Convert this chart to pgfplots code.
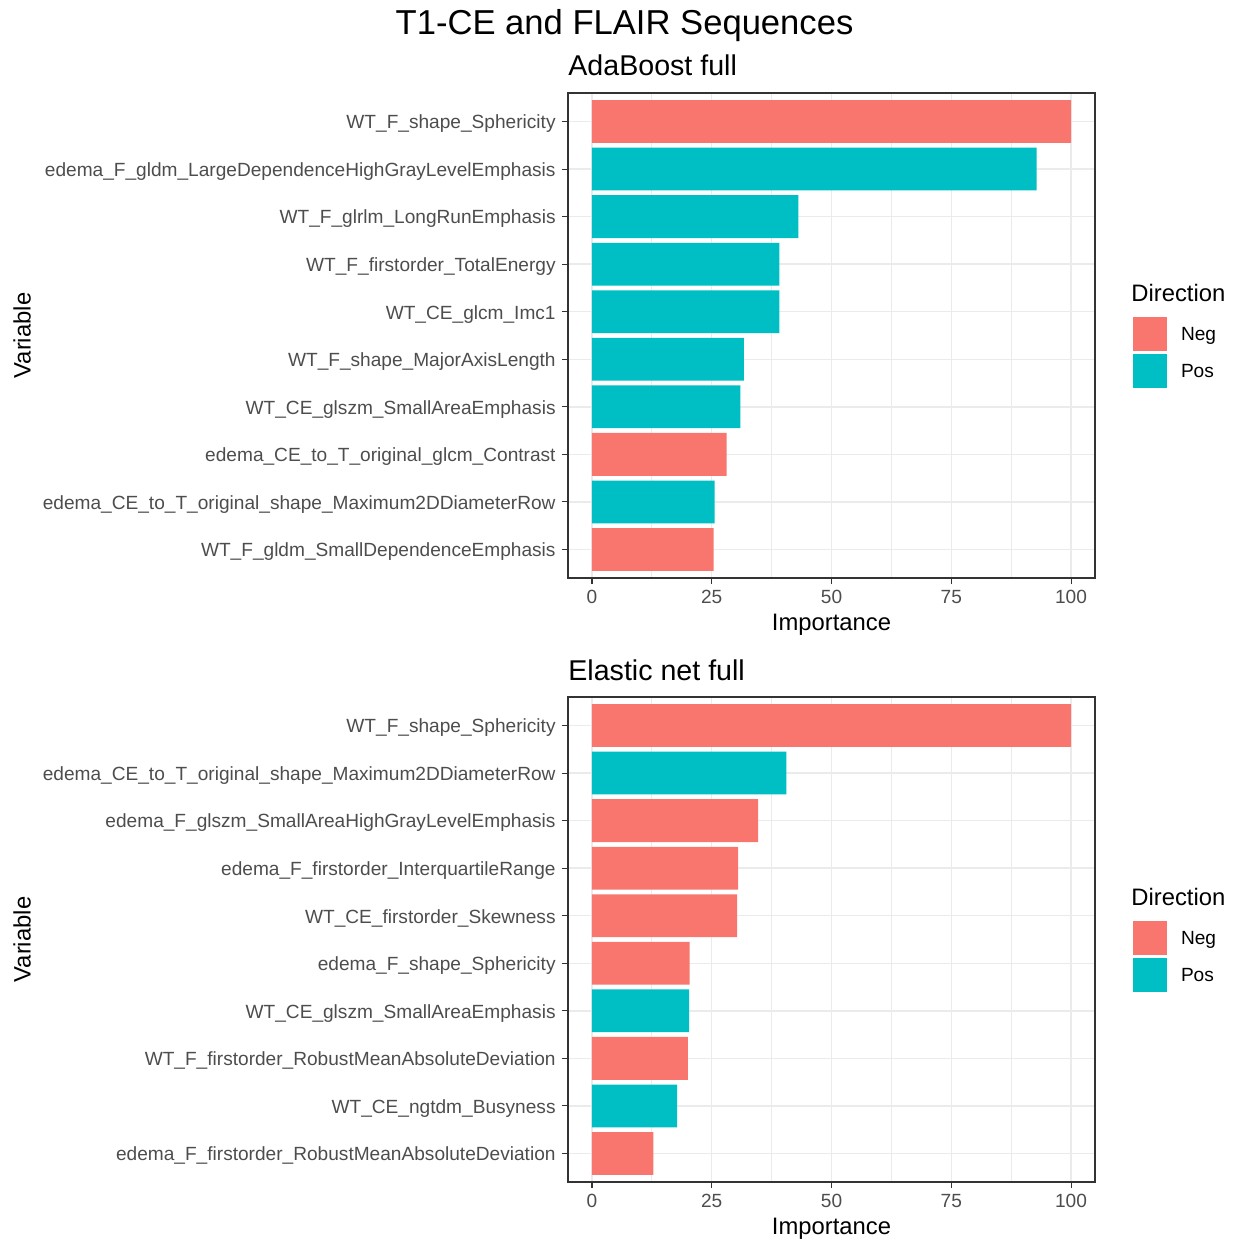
\documentclass[border=0pt]{standalone}
\usepackage{fontspec}
\setmainfont{Liberation Sans}
\usepackage{pgfplots}
\pgfplotsset{compat=1.18}
\definecolor{negc}{HTML}{F8766D}
\definecolor{posc}{HTML}{00BFC4}
\definecolor{gridc}{HTML}{EBEBEB}
\definecolor{gray20}{HTML}{333333}
\definecolor{gray30}{HTML}{4D4D4D}
\pgfplotsset{gg/.style={
  scale only axis, width=263.5pt, height=242.5pt,
  anchor=north west,
  xmin=-5, xmax=105, ymin=0.4, ymax=10.6,
  xtick={0,25,50,75,100}, minor xtick={12.5,37.5,62.5,87.5},
  ytick={1,...,10},
  xmajorgrids, xminorgrids, ymajorgrids,
  major grid style={color=gridc, line width=0.75pt},
  minor grid style={color=gridc, line width=0.38pt},
  tick align=outside, major tick length=3pt, minor tick length=0pt,
  xtick pos=bottom, ytick pos=left,
  major tick style={color=gray20, line width=0.55pt},
  axis line style={color=gray20, line width=0.55pt},
  ticklabel style={font=\fontsize{9.55}{11}\selectfont, text=gray30},
  yticklabel style={inner sep=0pt, xshift=-3pt, yshift=-1.2pt},
  xticklabel style={inner sep=0pt, yshift=-2.8pt},
  /pgf/number format/assume math mode=true,
  legend style={at={(1.0721,0.5381)}, anchor=north west, draw=none, fill=none,
    inner sep=0pt, outer sep=0pt, row sep=1.5pt, column sep=7pt,
    nodes={inner sep=0pt}, cells={anchor=base west},
    font=\fontsize{9.55}{11}\selectfont},
  negstyle/.style={xbar, bar width=0.9, bar shift=0pt, fill=negc, draw=none,
    legend image code/.code={\fill[negc] (0pt,-5.1pt) rectangle (17pt,11.9pt);}},
  posstyle/.style={xbar, bar width=0.9, bar shift=0pt, fill=posc, draw=none,
    legend image code/.code={\fill[posc] (0pt,-5.1pt) rectangle (17pt,11.9pt);}},
}}
\begin{document}
\begin{tikzpicture}[x=0.5pt,y=-0.5pt]
\useasboundingbox (0,0) rectangle (1238,1241);
% main title
\node[anchor=base, inner sep=0pt, font=\fontsize{17.3}{20}\selectfont] at (624.5,35) {T1-CE and FLAIR Sequences};
% ---------- top panel ----------
\node[anchor=base west, inner sep=0pt, font=\fontsize{14.3}{17}\selectfont] at (568,76) {AdaBoost full};
\begin{axis}[gg, at={(284pt,-46.5pt)},
  yticklabels={
    {WT\_F\_gldm\_SmallDependenceEmphasis},
    {edema\_CE\_to\_T\_original\_shape\_Maximum2DDiameterRow},
    {edema\_CE\_to\_T\_original\_glcm\_Contrast},
    {WT\_CE\_glszm\_SmallAreaEmphasis},
    {WT\_F\_shape\_MajorAxisLength},
    {WT\_CE\_glcm\_Imc1},
    {WT\_F\_firstorder\_TotalEnergy},
    {WT\_F\_glrlm\_LongRunEmphasis},
    {edema\_F\_gldm\_LargeDependenceHighGrayLevelEmphasis},
    {WT\_F\_shape\_Sphericity}}]
\addplot[negstyle] coordinates {(100,10) (28.1,3) (25.4,1)};
\addlegendentry{Neg}
\addplot[posstyle] coordinates {(92.8,9) (43.1,8) (39.1,7) (39.1,6) (31.7,5) (31.0,4) (25.6,2)};
\addlegendentry{Pos}
\end{axis}
\node[anchor=base, inner sep=0pt, font=\fontsize{11.9}{14}\selectfont] at (831.5,630.5) {Importance};
\node[rotate=90, inner sep=0pt, font=\fontsize{11.9}{14}\selectfont] at (22,335.5) {Variable};
\node[anchor=base west, inner sep=0pt, font=\fontsize{11.9}{14}\selectfont] at (1131,301.5) {Direction};
% ---------- bottom panel ----------
\node[anchor=base west, inner sep=0pt, font=\fontsize{14.3}{17}\selectfont] at (568,680) {Elastic net full};
\begin{axis}[gg, at={(284pt,-348.5pt)},
  yticklabels={
    {edema\_F\_firstorder\_RobustMeanAbsoluteDeviation},
    {WT\_CE\_ngtdm\_Busyness},
    {WT\_F\_firstorder\_RobustMeanAbsoluteDeviation},
    {WT\_CE\_glszm\_SmallAreaEmphasis},
    {edema\_F\_shape\_Sphericity},
    {WT\_CE\_firstorder\_Skewness},
    {edema\_F\_firstorder\_InterquartileRange},
    {edema\_F\_glszm\_SmallAreaHighGrayLevelEmphasis},
    {edema\_CE\_to\_T\_original\_shape\_Maximum2DDiameterRow},
    {WT\_F\_shape\_Sphericity}}]
\addplot[negstyle] coordinates {(100,10) (34.7,8) (30.5,7) (30.3,6) (20.4,5) (20.0,3) (12.8,1)};
\addlegendentry{Neg}
\addplot[posstyle] coordinates {(40.6,9) (20.3,4) (17.8,2)};
\addlegendentry{Pos}
\end{axis}
\node[anchor=base, inner sep=0pt, font=\fontsize{11.9}{14}\selectfont] at (831.5,1234.5) {Importance};
\node[rotate=90, inner sep=0pt, font=\fontsize{11.9}{14}\selectfont] at (22,939.5) {Variable};
\node[anchor=base west, inner sep=0pt, font=\fontsize{11.9}{14}\selectfont] at (1131,905.5) {Direction};
\end{tikzpicture}
\end{document}
